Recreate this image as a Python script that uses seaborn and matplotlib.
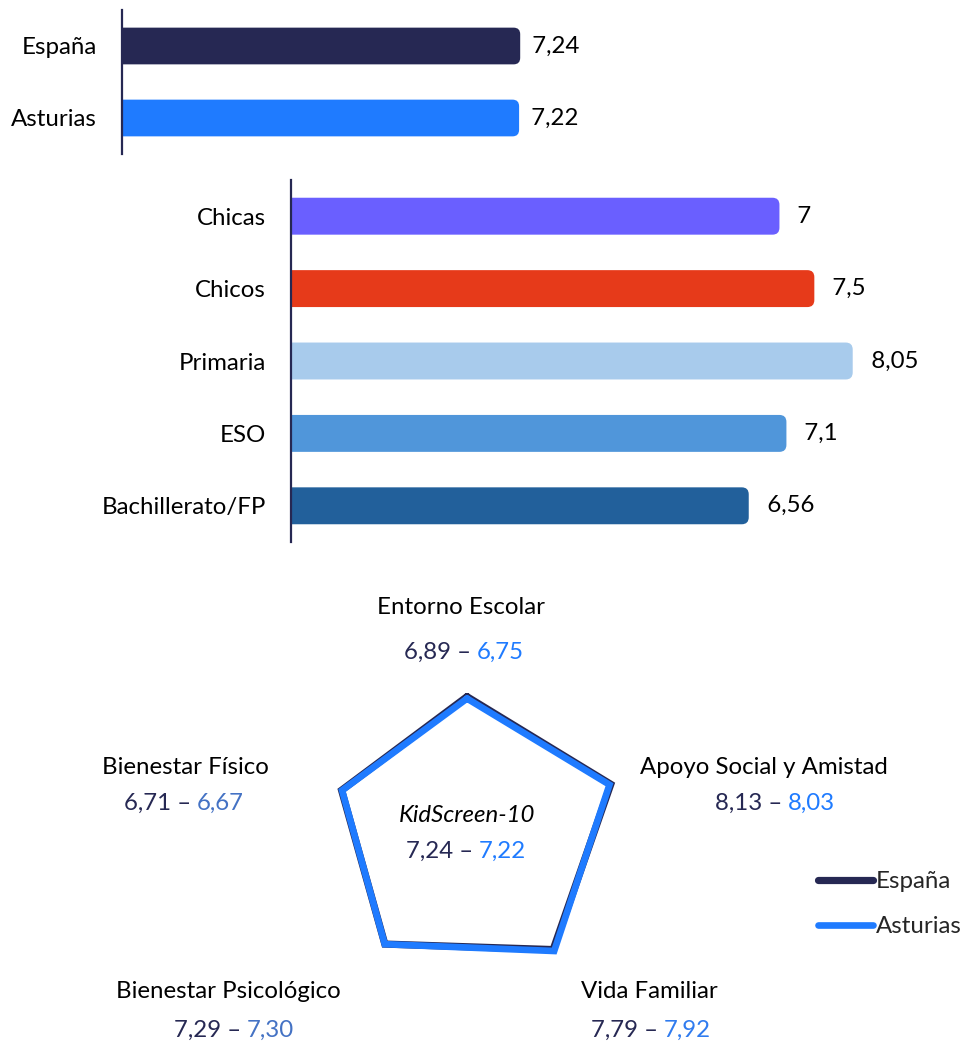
import numpy as np
import pandas as pd
import matplotlib
matplotlib.use("Agg")
import matplotlib.pyplot as plt
from matplotlib.patches import FancyBboxPatch
import seaborn as sns

# --- data ---
regions = ["España", "Asturias"]
region_scores = [7.24, 7.22]
region_colors = ["#262853", "#1F7BFF"]

groups = ["Chicas", "Chicos", "Primaria", "ESO", "Bachillerato/FP"]
group_scores = [7.0, 7.5, 8.05, 7.1, 6.56]
group_labels = ["7", "7,5", "8,05", "7,1", "6,56"]
group_colors = ["#6A5FFF", "#E63A1A", "#A8CBEC", "#5096DA", "#22609B"]

dimensions = ["Entorno Escolar", "Apoyo Social y Amistad", "Vida Familiar",
              "Bienestar Psicológico", "Bienestar Físico"]
espana_dims = [6.89, 8.13, 7.79, 7.29, 6.71]
asturias_dims = [6.75, 8.03, 7.92, 7.30, 6.67]
asturias_label_colors = ["#1F7BFF", "#1F7BFF", "#2F7BEF", "#4472C4", "#4472C4"]
kidscreen = [7.24, 7.22]

W, H = 966, 1045
DARK = "#262853"
BLUE = "#1F7BFF"

sns.set_theme(style="white")
plt.rcParams["font.family"] = ["Lato", "DejaVu Sans"]
FS = 17.3

fig = plt.figure(figsize=(W / 100, H / 100), dpi=100)


def px_axes(left, top, width, height, **kw):
    return fig.add_axes([left / W, 1 - (top + height) / H, width / W, height / H], **kw)


def fmt(v):
    return f"{v:.2f}".replace(".", ",")


def round_ends(ax, aspect, radius):
    # swap seaborn's rectangles for bars with rounded right ends
    for p in list(ax.patches):
        x, y = p.get_x(), p.get_y()
        w, h = p.get_width(), p.get_height()
        fb = FancyBboxPatch((x - radius * 2, y), w + radius * 2, h,
                            boxstyle=f"round,pad=0,rounding_size={radius}",
                            mutation_aspect=aspect, facecolor=p.get_facecolor(),
                            edgecolor="none", clip_on=True)
        ax.add_patch(fb)
        p.set_visible(False)


def style_bar_axes(ax):
    sns.despine(ax=ax, left=False, bottom=True)
    ax.spines["left"].set_color(DARK)
    ax.spines["left"].set_linewidth(1.6)
    ax.set_xticks([])
    ax.set_xlabel("")
    ax.set_ylabel("")
    ax.tick_params(axis="y", length=0, pad=18, labelsize=FS, labelcolor="black")
    ax.patch.set_alpha(0)


# --- top bars: España / Asturias ---
ax1 = px_axes(122, 10, 440, 144)
df1 = pd.DataFrame({"region": regions, "valor": region_scores})
sns.barplot(data=df1, x="valor", y="region", hue="region", palette=region_colors,
            width=0.51, saturation=1, legend=False, ax=ax1)
ax1.set_xlim(0, 8)
ax1.set_ylim(1.5, -0.5)
style_bar_axes(ax1)
for i, v in enumerate(region_scores):
    ax1.text(v, i, "  " + fmt(v), va="center", ha="left", fontsize=FS, color="black")
round_ends(ax1, 55 / 72, 0.12)

# --- middle bars: groups ---
ax2 = px_axes(291, 180, 628, 362)
df2 = pd.DataFrame({"grupo": groups, "valor": group_scores})
sns.barplot(data=df2, x="valor", y="grupo", hue="grupo", palette=group_colors,
            width=0.51, saturation=1, legend=False, ax=ax2)
ax2.set_xlim(0, 9)
ax2.set_ylim(4.5, -0.5)
style_bar_axes(ax2)
for i, (v, lab) in enumerate(zip(group_scores, group_labels)):
    ax2.text(v, i, "   " + lab, va="center", ha="left", fontsize=FS, color="black")
round_ends(ax2, 69.8 / 72, 0.1)

# --- radar ---
axr = px_axes(304, 668, 326, 326, projection="polar")
n = len(dimensions)
theta = np.linspace(0, 2 * np.pi, n, endpoint=False)
theta_c = np.append(theta, 2 * np.pi)
esp_c = np.append(espana_dims, espana_dims[0])
ast_c = np.append(asturias_dims, asturias_dims[0])
axr.set_theta_offset(np.pi / 2)
axr.set_theta_direction(-1)
sns.lineplot(x=theta_c, y=esp_c, ax=axr, color=DARK, lw=5.2, sort=False, label="España")
sns.lineplot(x=theta_c, y=ast_c, ax=axr, color=BLUE, lw=4.8, sort=False, label="Asturias")
for ln in axr.lines:
    ln.set_solid_joinstyle("miter")
axr.set_ylim(0, 9)
axr.set_rorigin(-3)
axr.axis("off")
handles, labels = axr.get_legend_handles_labels()
axr.get_legend().remove()
fig.legend(handles, labels, loc="center left", bbox_to_anchor=(818 / W, 1 - 904 / H),
           frameon=False, fontsize=FS, handlelength=2.3, handletextpad=0.1,
           labelspacing=1.0, borderpad=0, borderaxespad=0)


def fig_text(x, y, s, **kw):
    fig.text(x / W, 1 - y / H, s, fontsize=FS, va="center", **kw)


def pair(x_dash, y, a, b, color_b):
    fig_text(x_dash, y, f"{fmt(a)} –", ha="right", color=DARK)
    fig_text(x_dash + 6, y, fmt(b), ha="left", color=color_b)


# name centre (x, y), dash end x, value row y
label_layout = [
    (461, 608, 471, 652),
    (764, 767, 782, 803),
    (649, 991, 658, 1030),
    (228, 991, 241, 1030),
    (185, 767, 191, 803),
]
for name, e, a, col, (cx, cy, dx, vy) in zip(dimensions, espana_dims, asturias_dims,
                                            asturias_label_colors, label_layout):
    fig_text(cx, cy, name, ha="center", color="black")
    pair(dx, vy, e, a, col)

fig_text(467, 816, "KidScreen-10", ha="center", color="black", style="italic")
pair(473, 851, kidscreen[0], kidscreen[1], BLUE)

fig.savefig("out.png", dpi=100, facecolor="white")
